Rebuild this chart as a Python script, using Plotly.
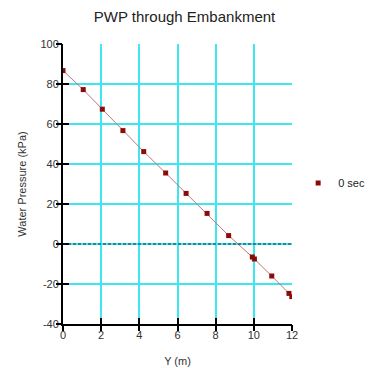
import plotly.graph_objects as go

y_m = [0.0, 1.06, 2.06, 3.14, 4.23, 5.38, 6.45, 7.55, 8.68, 9.92, 10.03, 10.94, 11.84, 11.99]
pwp_kpa = [86.7, 77.2, 67.4, 56.7, 46.2, 35.5, 25.3, 15.3, 4.2, -6.5, -7.5, -16.0, -24.7, -26.3]
series_name = "0 sec"
x_ticks = [0, 2, 4, 6, 8, 10, 12]
y_ticks = [-40, -20, 0, 20, 40, 60, 80, 100]
y_tick_labels = ["-40", "-20", "0", "20", "40", "60", "80", "100"]
x_range = [0, 12]
y_range = [-40, 100]

GRID = "#3ee6ef"

fig = go.Figure()
fig.add_trace(go.Scatter(x=y_m, y=pwp_kpa, mode="lines", line=dict(color="#c07878", width=1),
                         showlegend=False, hoverinfo="skip"))
fig.add_trace(go.Scatter(x=y_m, y=pwp_kpa, mode="markers", name=series_name,
                         marker=dict(symbol="square", size=5, color="#8b0a0a")))
# overlay traces carrying the crossing tick marks
fig.add_trace(go.Scatter(x=[None], y=[None], xaxis="x2", yaxis="y2", showlegend=False))
fig.add_trace(go.Scatter(x=[None], y=[None], xaxis="x3", yaxis="y3", showlegend=False))

fig.add_shape(type="line", xref="x", yref="y", x0=x_range[0], x1=x_range[1], y0=0, y1=0,
              line=dict(color="#003040", width=1, dash="3px,2px"))

label_font = dict(family="Arial", size=11, color="#333333")
axis_common = dict(showline=True, linecolor="black", linewidth=2, ticks="",
                   automargin=False, showgrid=True, gridcolor=GRID, gridwidth=1.6,
                   zeroline=False, tickfont=label_font)

def tick_axis(kind, rng, vals, side, anchor, direction):
    return dict(overlaying=kind, range=rng, tickvals=vals, showticklabels=False,
                ticks=direction, ticklen=6, tickwidth=2, tickcolor="black",
                showgrid=False, showline=False, zeroline=False,
                side=side, anchor=anchor, automargin=False)

fig.update_layout(
    width=369, height=368,
    margin=dict(l=63, r=77, t=44, b=44),
    paper_bgcolor="white", plot_bgcolor="white",
    title=dict(text="PWP through Embankment", x=0.5, xanchor="center", y=0.955, yanchor="middle",
               font=dict(family="Arial", size=15, color="#222222")),
    xaxis=dict(range=x_range, tickvals=x_ticks,
               title=dict(text="Y (m)", font=label_font, standoff=17), **axis_common),
    yaxis=dict(range=y_range, tickvals=y_ticks, ticktext=y_tick_labels,
               title=dict(text="Water Pressure (kPa)", font=label_font, standoff=12), **axis_common),
    xaxis2=tick_axis("x", x_range, x_ticks, "bottom", "y2", "outside"),
    yaxis2=tick_axis("y", y_range, y_ticks, "left", "x2", "outside"),
    xaxis3=tick_axis("x", x_range, x_ticks, "bottom", "y3", "inside"),
    yaxis3=tick_axis("y", y_range, y_ticks, "left", "x3", "inside"),
    legend=dict(xref="container", yref="container", x=0.808, y=0.503, xanchor="left", yanchor="middle",
                font=dict(family="Arial", size=11, color="#222222"), bgcolor="rgba(0,0,0,0)",
                itemwidth=30),
    showlegend=True,
)

fig.write_html("out.html")
